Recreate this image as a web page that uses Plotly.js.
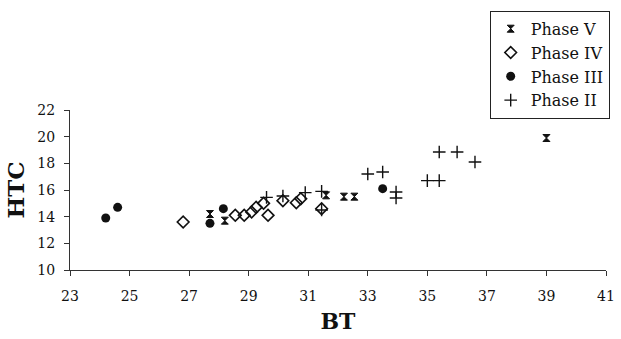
<!DOCTYPE html>
<html>
<head>
<meta charset="utf-8">
<script src="https://cdn.plot.ly/plotly-3.0.1.min.js"></script>
<style>
  html, body { margin: 0; padding: 0; background: #fff; }
  #chart { width: 621px; height: 339px; }
</style>
</head>
<body>
<div id="chart"></div>
<script>
// BT (x) versus HTC (y), grouped by phase
const phaseV_bt  = [27.7, 28.2, 31.6, 32.2, 32.55, 39.0];
const phaseV_htc = [14.2, 13.7, 15.6, 15.5, 15.5, 19.9];

const phaseIV_bt  = [26.8, 28.55, 28.85, 29.1, 29.25, 29.5, 29.65, 30.15, 30.6, 30.75, 31.45];
const phaseIV_htc = [13.6, 14.1, 14.1, 14.35, 14.7, 15.0, 14.1, 15.2, 15.05, 15.35, 14.6];

const phaseIII_bt  = [24.2, 24.6, 27.7, 28.15, 33.5];
const phaseIII_htc = [13.9, 14.7, 13.5, 14.6, 16.1];

const phaseII_bt  = [29.6, 30.15, 30.9, 31.45, 31.45, 33.0, 33.5, 33.95, 33.95, 35.0, 35.4, 35.4, 36.0, 36.6];
const phaseII_htc = [15.45, 15.55, 15.8, 15.9, 14.5, 17.2, 17.35, 15.85, 15.4, 16.7, 16.7, 18.85, 18.85, 18.1];

const xTicks = [23, 25, 27, 29, 31, 33, 35, 37, 39, 41];
const yTicks = [10, 12, 14, 16, 18, 20, 22];

const serif = 'DejaVu Serif, Liberation Serif, serif';
const ink = '#111';

const traces = [
  {
    name: 'Phase V', x: phaseV_bt, y: phaseV_htc, type: 'scatter', mode: 'markers',
    marker: { symbol: 'hourglass', size: 7, color: ink, line: { color: ink, width: 1 } }
  },
  {
    name: 'Phase IV', x: phaseIV_bt, y: phaseIV_htc, type: 'scatter', mode: 'markers',
    marker: { symbol: 'diamond-open', size: 9, color: ink, line: { color: ink, width: 1.6 } }
  },
  {
    name: 'Phase III', x: phaseIII_bt, y: phaseIII_htc, type: 'scatter', mode: 'markers',
    marker: { symbol: 'circle', size: 9, color: ink }
  },
  {
    name: 'Phase II', x: phaseII_bt, y: phaseII_htc, type: 'scatter', mode: 'markers',
    marker: { symbol: 'cross-thin-open', size: 9, color: ink, line: { color: ink, width: 1.4 } }
  }
];

const layout = {
  width: 621, height: 339,
  margin: { l: 70, r: 11, t: 106, b: 69 },
  paper_bgcolor: '#fff', plot_bgcolor: '#fff',
  font: { family: serif, color: ink, size: 14 },
  showlegend: true,
  legend: {
    x: 0.783, xanchor: 'left', y: 1.62, yanchor: 'top',
    bgcolor: '#fff', bordercolor: '#222', borderwidth: 1,
    font: { family: serif, size: 16, color: ink },
    itemwidth: 30, tracegroupgap: 0
  },
  xaxis: {
    range: [23, 41], tickvals: xTicks, ticktext: xTicks.map(String),
    showgrid: false, zeroline: false, showline: true, linecolor: '#333', linewidth: 1,
    ticks: 'outside', ticklen: 5, tickcolor: '#333', ticklabelstandoff: 8,
    tickfont: { family: serif, size: 14, color: ink },
    title: { text: 'BT', font: { family: serif, size: 22, color: ink, weight: 'bold' }, standoff: 10 }
  },
  yaxis: {
    range: [10, 22], tickvals: yTicks, ticktext: yTicks.map(String),
    showgrid: false, zeroline: false, showline: true, linecolor: '#333', linewidth: 1,
    ticks: 'outside', ticklen: 5, tickcolor: '#333', ticklabelstandoff: 6,
    tickfont: { family: serif, size: 14, color: ink },
    title: { text: 'HTC', font: { family: serif, size: 23, color: ink, weight: 'bold' }, standoff: 6 }
  }
};

Plotly.newPlot('chart', traces, layout, { displayModeBar: false, staticPlot: true });
</script>
</body>
</html>
